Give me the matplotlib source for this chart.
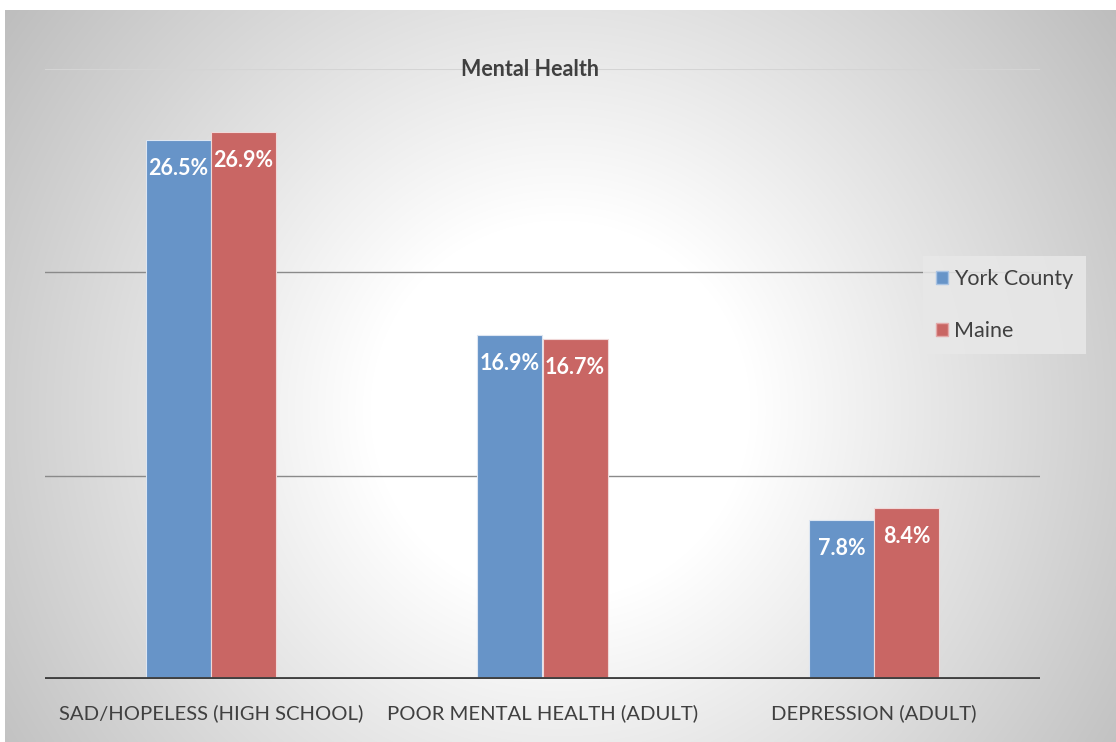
import matplotlib.pyplot as plt
import numpy as np
from matplotlib.patches import Patch

categories = ['SAD/HOPELESS (HIGH SCHOOL)', 'POOR MENTAL HEALTH (ADULT)', 'DEPRESSION (ADULT)']
york = [26.5, 16.9, 7.8]
maine = [26.9, 16.7, 8.4]
series_names = ['York County', 'Maine']

blue = '#6794c8'
red = '#c96664'
txt = '#404040'

plt.rcParams['font.family'] = ['Lato', 'DejaVu Sans']

W, H = 1116, 742
fig = plt.figure(figsize=(W / 100, H / 100), dpi=100)

# radial grey background
bg = fig.add_axes([5 / W, 0, 1 - 5 / W, 1 - 10 / H], zorder=-5)
yy, xx = np.mgrid[0:732, 0:1111]
d = np.sqrt((xx - 555) ** 2 + (yy - 400) ** 2)
c = 1 - 5.2e-4 * np.clip(d - 190, 0, None)
bg.imshow(np.dstack([c, c, c]), aspect='auto', extent=[0, 1, 0, 1], vmin=0, vmax=1)
bg.set_axis_off()

ax = fig.add_axes([45 / W, 1 - 679 / H, (1040 - 45) / W, (679 - 69) / H])
ax.patch.set_alpha(0)

x = np.arange(len(categories))
w = 0.196
b1 = ax.bar(x - w / 2, york, w, color=blue, edgecolor='#dde6f2', linewidth=0.8, zorder=3)
b2 = ax.bar(x + w / 2, maine, w, color=red, edgecolor='#f0d8d8', linewidth=0.8, zorder=3)

for bars, vals in [(b1, york), (b2, maine)]:
    for r, v in zip(bars, vals):
        ax.annotate(f'{v:.1f}%', (r.get_x() + r.get_width() / 2, v), xytext=(0, -13),
                    textcoords='offset points', ha='center', va='top',
                    color='white', fontsize=15.5, fontweight='bold', zorder=4)

ax.set_xlim(-0.5, 2.5)
ax.set_ylim(0, 30)
for g in [10, 20]:
    ax.axhline(g, color='#8a8a8a', lw=1, zorder=1)
ax.axhline(30, color='#d4d4d4', lw=1.5, zorder=1)
ax.axhline(0, color='#404040', lw=3.5, zorder=5)

for s in ax.spines.values():
    s.set_visible(False)
ax.set_yticks([])
ax.set_xticks(x)
ax.set_xticklabels(categories, fontsize=14.6, color=txt)
ax.tick_params(axis='x', length=0, pad=18)

fig.text(530 / W, 1 - 69 / H, 'Mental Health', ha='center', va='center',
         fontsize=15.5, fontweight='bold', color=txt, zorder=10)

handles = [Patch(facecolor=blue, edgecolor='#a9c3e3'), Patch(facecolor=red, edgecolor='#e3a9a9')]
leg = ax.legend(handles, series_names, loc='upper left', bbox_to_anchor=(923 / W, 1 - 256 / H),
                bbox_transform=fig.transFigure, frameon=True, fontsize=15.5, labelcolor=txt,
                handlelength=0.55, handleheight=0.55, handletextpad=0.3, labelspacing=1.5,
                borderpad=0.6, borderaxespad=0, fancybox=False)
leg.get_frame().set_facecolor('#e8e8e8')
leg.get_frame().set_edgecolor('none')
leg.get_frame().set_alpha(0.85)
leg.set_zorder(6)

fig.savefig('out.png', dpi=100)
